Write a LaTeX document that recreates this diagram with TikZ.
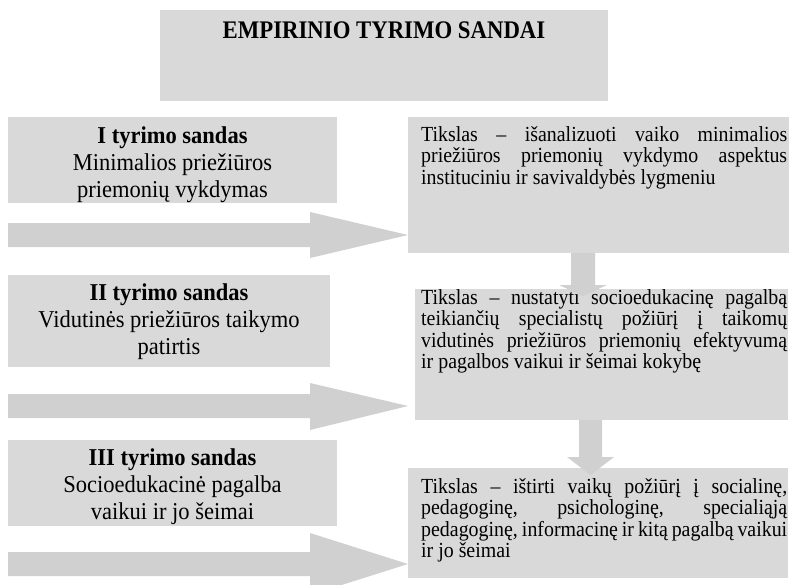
\documentclass[tikz,border=0pt]{standalone}
\usepackage{fontspec}
\setmainfont{Liberation Serif}
\newfontfamily\leftfont[FakeStretch=0.93]{Liberation Serif}
\newfontfamily\rightfont[FakeStretch=0.925]{Liberation Serif}
\newfontfamily\titlefont[FakeStretch=0.9]{Liberation Serif}
\definecolor{boxgray}{HTML}{D9D9D9}
\definecolor{arrgray}{HTML}{D0D0D0}
\tikzset{
  box/.style={fill=boxgray, draw=none, inner sep=0pt, anchor=north west},
  blockarrow/.style={fill=arrgray, draw=none},
  ltext/.style={inner sep=0pt, anchor=base},
  rtext/.style={inner sep=0pt, anchor=base west},
}
\newcommand{\jline}[1]{\makebox[366pt][s]{#1}}
\newcommand{\LT}[3]{\parbox[t]{320pt}{\centering\leftfont\fontsize{24.2}{27}\selectfont\textbf{#1}\\#2\\#3}}
\newcommand{\RT}[1]{\parbox[t]{366pt}{\rightfont\fontsize{21.5}{21.4}\selectfont #1}}
\begin{document}
\begin{tikzpicture}[x=1pt,y=-1pt]
\useasboundingbox (0,0) rectangle (795,584);
\clip (0,0) rectangle (795,584);
% title
\node[box, minimum width=448pt, minimum height=91pt] (title) at (160,10) {};
\node[ltext] (titletext) at (384,38.5) {\titlefont\fontsize{25.3}{27}\selectfont\bfseries EMPIRINIO TYRIMO SANDAI};
% left boxes
\node[box, minimum width=329pt, minimum height=86pt] (l1) at (8,117) {};
\node[box, minimum width=322pt, minimum height=92pt] (l2) at (8,275) {};
\node[box, minimum width=329pt, minimum height=86pt] (l3) at (8,440) {};
\node[ltext] (l1t) at (172.5,143.5) {\LT{I tyrimo sandas}{Minimalios priežiūros}{priemonių vykdymas}};
\node[ltext] (l2t) at (169,300.7) {\LT{II tyrimo sandas}{Vidutinės priežiūros taikymo}{patirtis}};
\node[ltext] (l3t) at (172.5,465) {\LT{III tyrimo sandas}{Socioedukacinė pagalba}{vaikui ir jo šeimai}};
% right boxes
\node[box, minimum width=381pt, minimum height=136pt] (r1) at (408,117) {};
\node[box, minimum width=373pt, minimum height=131pt] (r2) at (415,289) {};
\node[box, minimum width=380pt, minimum height=110pt] (r3) at (408,468) {};
\node[rtext] (r1t) at (421,141.5) {\RT{\jline{Tikslas – išanalizuoti vaiko minimalios}\\
\jline{priežiūros priemonių vykdymo aspektus}\\
instituciniu ir savivaldybės lygmeniu}};
\node[rtext] (r2t) at (421,304.5) {\RT{\jline{Tikslas – nustatyti socioedukacinę pagalbą}\\
\jline{teikiančių specialistų požiūrį į taikomų}\\
\jline{vidutinės priežiūros priemonių efektyvumą}\\
ir pagalbos vaikui ir šeimai kokybę}};
\node[rtext] (r3t) at (421,493.5) {\RT{\jline{Tikslas – ištirti vaikų požiūrį į socialinę,}\\
\jline{pedagoginę, psichologinę, specialiąją}\\
\jline{pedagoginę, informacinę ir kitą pagalbą vaikui}\\
ir jo šeimai}};
% horizontal block arrows (left box row -> right box)
\coordinate (a1tip) at (408,235);
\coordinate (a2tip) at (408,406);
\coordinate (a3tip) at (408,564);
\fill[blockarrow] (8,223) -- (310,223) -- (310,212) -- (a1tip) -- (310,258) -- (310,247) -- (8,247) -- cycle;
\fill[blockarrow] (8,394) -- (310,394) -- (310,383) -- (a2tip) -- (310,430) -- (310,418) -- (8,418) -- cycle;
\fill[blockarrow] (8,552) -- (310,552) -- (310,533) -- (a3tip) -- (310,595) -- (310,576) -- (8,576) -- cycle;
% vertical block arrows between right boxes
\coordinate (d1tip) at (583,296);
\coordinate (d2tip) at (590.5,475);
\fill[blockarrow] (571,253) -- (595,253) -- (595,285) -- (607,285) -- (d1tip) -- (559,285) -- (571,285) -- cycle;
\fill[blockarrow] (579,420) -- (602,420) -- (602,457) -- (614,457) -- (d2tip) -- (567,457) -- (579,457) -- cycle;
\end{tikzpicture}
\end{document}
